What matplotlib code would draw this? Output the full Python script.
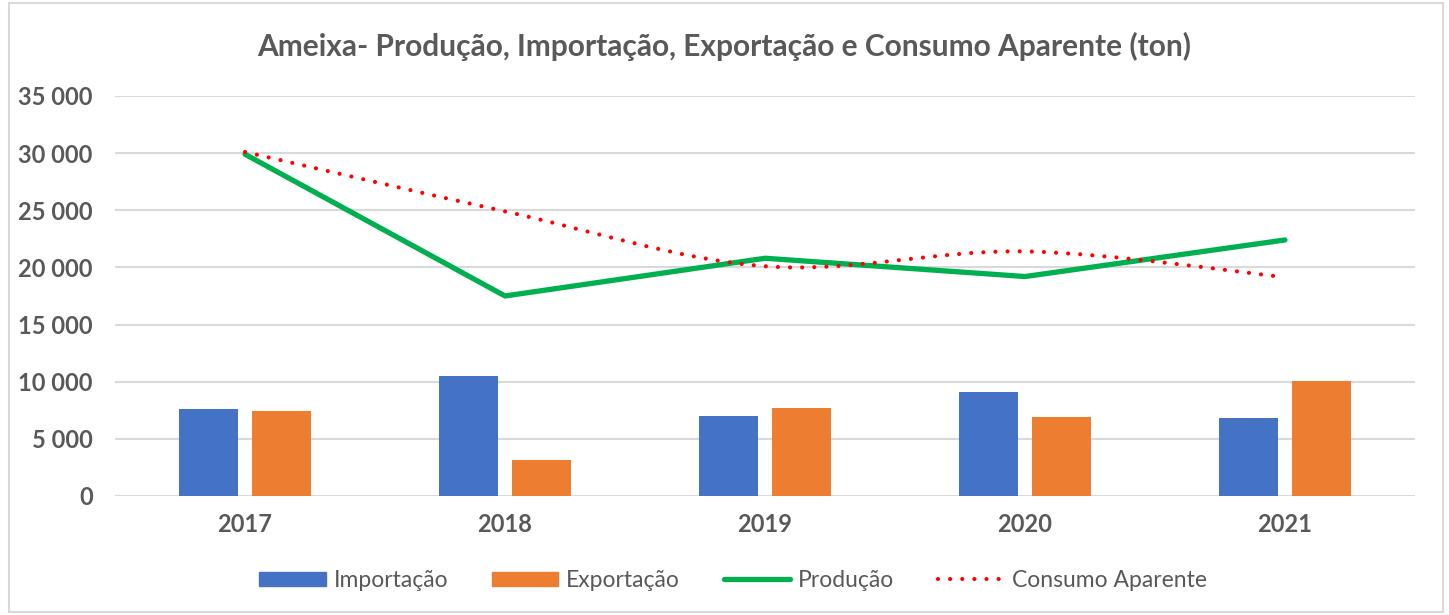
import matplotlib
matplotlib.use("Agg")
import matplotlib.pyplot as plt
import numpy as np
from matplotlib.path import Path
from matplotlib.patches import PathPatch, Patch, Rectangle
from matplotlib.lines import Line2D
from matplotlib.ticker import FuncFormatter, MultipleLocator

plt.rcParams['font.family'] = ['Lato', 'DejaVu Sans']

# Dados (toneladas)
anos = ["2017", "2018", "2019", "2020", "2021"]
importacao = [7600, 10500, 7000, 9100, 6800]
exportacao = [7450, 3150, 7700, 6900, 10050]
producao = [29900, 17500, 20800, 19200, 22400]
consumo = [30100, 24900, 20100, 21400, 19150]

cinza = "#595959"


# Curva suavizada (estilo Excel) com Bezier cúbicas
def smooth_path(xs, ys):
    pts = np.column_stack([xs, ys]).astype(float)
    n = len(pts)
    verts = [pts[0]]
    codes = [Path.MOVETO]
    for i in range(n - 1):
        p0 = pts[max(i - 1, 0)]
        p1 = pts[i]
        p2 = pts[i + 1]
        p3 = pts[min(i + 2, n - 1)]
        c1 = p1 + (p2 - p0) / 6.0
        c2 = p2 - (p3 - p1) / 6.0
        verts += [c1, c2, p2]
        codes += [Path.CURVE4] * 3
    return Path(verts, codes)


fig = plt.figure(figsize=(14.49, 6.15), dpi=100)
ax = fig.add_axes([0.0794, 0.1935, 0.8971, 0.6505])

x = np.arange(len(anos))
w = 0.225
ax.bar(x - 0.14, importacao, w, color="#4472C4", zorder=2)
ax.bar(x + 0.14, exportacao, w, color="#ED7D31", zorder=2)

ax.plot(x, producao, color="#00B050", lw=3.8, solid_capstyle="round",
        solid_joinstyle="round", zorder=3)

dots = (0, (0.01, 2.9))
ax.add_patch(PathPatch(smooth_path(x, consumo), fill=False, edgecolor="#FF0000",
                       lw=3.0, linestyle=dots, capstyle="round", zorder=4))

ax.set_xlim(-0.5, len(anos) - 0.5)
ax.set_ylim(0, 35000)
ax.yaxis.set_major_locator(MultipleLocator(5000))
ax.yaxis.set_major_formatter(FuncFormatter(lambda v, p: f"{v:,.0f}".replace(",", " ")))
ax.set_xticks(x)
ax.set_xticklabels(anos)
ax.grid(axis="y", color="#d9d9d9", lw=1.5, zorder=0)
ax.set_axisbelow(True)
for s in ax.spines.values():
    s.set_visible(False)
ax.tick_params(length=0)
ax.tick_params(axis="y", pad=16)
ax.tick_params(axis="x", pad=12)
for lab in ax.get_xticklabels() + ax.get_yticklabels():
    lab.set_fontsize(17)
    lab.set_fontweight("bold")
    lab.set_color(cinza)

fig.text(0.5, 0.925, "Ameixa- Produção, Importação, Exportação e Consumo Aparente (ton)",
         ha="center", va="center", fontsize=21.5, fontweight="bold", color=cinza)

handles = [
    Patch(color="#4472C4"),
    Patch(color="#ED7D31"),
    Line2D([], [], color="#00B050", lw=3.8, solid_capstyle="round"),
    Line2D([], [], color="#FF0000", lw=3.0, linestyle=dots, dash_capstyle="round"),
]
labels = ["Importação", "Exportação", "Produção", "Consumo Aparente"]
leg = fig.legend(handles, labels, loc="center", bbox_to_anchor=(0.506, 0.056), ncol=4,
                 frameon=False, fontsize=16.5, handlelength=2.9, handleheight=0.6,
                 handletextpad=0.35, columnspacing=1.9)
for t in leg.get_texts():
    t.set_color(cinza)

fig.patches.append(Rectangle((0.006, 0.005), 0.99, 0.99, transform=fig.transFigure,
                             fill=False, edgecolor="#d9d9d9", lw=1.5))

fig.savefig("out.png", dpi=100)
